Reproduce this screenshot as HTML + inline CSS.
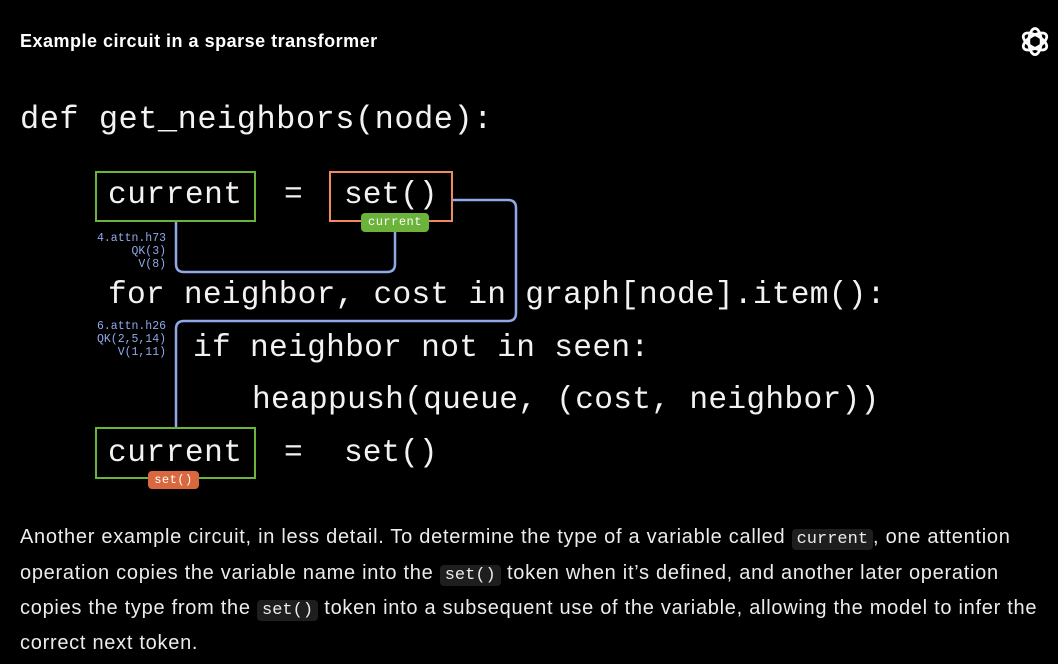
<!DOCTYPE html>
<html><head><meta charset="utf-8">
<style>
html,body{margin:0;padding:0;background:#000;}
body{width:1058px;height:664px;position:relative;overflow:hidden;color:#fff;font-family:"Liberation Sans",sans-serif;}
.t{position:absolute;white-space:pre;}
.code{font-family:"Liberation Mono",monospace;font-size:31.2px;line-height:40px;color:#f2f2f2;}
.box{position:absolute;border:2.5px solid;box-sizing:border-box;}
.lab{position:absolute;font-family:"Liberation Mono",monospace;font-size:11.5px;line-height:13px;color:#8fa8e8;text-align:right;width:90px;white-space:pre;}
.badge{position:absolute;border-radius:4px;font-family:"Liberation Mono",monospace;font-size:12px;color:#fff;text-align:center;line-height:19px;letter-spacing:0.5px;}
.p{position:absolute;left:20px;font-size:20px;line-height:24px;color:#ececec;white-space:pre;letter-spacing:0.72px;}
.c{font-family:"Liberation Mono",monospace;font-size:17px;letter-spacing:0;background:#1e1e1e;border-radius:4px;padding:1px 5px;}
</style></head><body>
<div class="t" style="left:20px;top:31px;font-size:18px;font-weight:bold;letter-spacing:0.5px;">Example circuit in a sparse transformer</div>
<svg style="position:absolute;left:1018px;top:25px" width="34" height="33" viewBox="-12 -12 24 24" fill="none" stroke="#fff" stroke-width="2">
<ellipse rx="4.5" ry="9.5" transform="rotate(0)"/>
<ellipse rx="4.5" ry="9.5" transform="rotate(60)"/>
<ellipse rx="4.5" ry="9.5" transform="rotate(120)"/>
</svg>

<svg style="position:absolute;left:0;top:0" width="1058" height="664" fill="none" stroke="#8fa8e8" stroke-width="2.5">
<path d="M176 221 V264 Q176 272 184 272 H387 Q395 272 395 264 V228"/>
<path d="M452 200 H508 Q516 200 516 208 V313 Q516 321 508 321 H184 Q176 321 176 329 V427"/>
</svg>

<div class="t code" style="left:20px;top:100px;font-size:32px;letter-spacing:0.5px;">def get_neighbors(node):</div>
<div class="box" style="left:95px;top:171px;width:161px;height:51px;border-color:#6bb33a;"></div>
<div class="t code" style="left:108px;top:176px;letter-spacing:0.5px;">current</div>
<div class="t code" style="left:284px;top:176px;">=</div>
<div class="box" style="left:329px;top:171px;width:124px;height:51px;border-color:#f08a5d;"></div>
<div class="t code" style="left:344px;top:176px;">set()</div>
<div class="badge" style="left:361px;top:213px;width:68px;height:19px;background:#6bb33a;">current</div>

<div class="lab" style="left:76px;top:232px;">4.attn.h73
QK(3)
V(8)</div>
<div class="t code" style="left:108px;top:276px;letter-spacing:0.25px;">for neighbor, cost in graph[node].item():</div>
<div class="lab" style="left:76px;top:320px;">6.attn.h26
QK(2,5,14)
V(1,11)</div>
<div class="t code" style="left:193px;top:329px;letter-spacing:0.3px;">if neighbor not in seen:</div>
<div class="t code" style="left:252px;top:381px;letter-spacing:0.3px;">heappush(queue, (cost, neighbor))</div>

<div class="box" style="left:95px;top:427px;width:161px;height:52px;border-color:#6bb33a;"></div>
<div class="t code" style="left:108px;top:434px;letter-spacing:0.5px;">current</div>
<div class="t code" style="left:284px;top:434px;">=</div>
<div class="t code" style="left:344px;top:434px;">set()</div>
<div class="badge" style="left:148px;top:471px;width:51px;height:18px;line-height:18px;background:#d9683f;">set()</div>

<div class="p" style="top:525px;">Another example circuit, in less detail. To determine the type of a variable called <span class="c">current</span>, one attention</div>
<div class="p" style="top:561px;">operation copies the variable name into the <span class="c">set()</span> token when it’s defined, and another later operation</div>
<div class="p" style="top:596px;">copies the type from the <span class="c">set()</span> token into a subsequent use of the variable, allowing the model to infer the</div>
<div class="p" style="top:631px;">correct next token.</div>
</body></html>
